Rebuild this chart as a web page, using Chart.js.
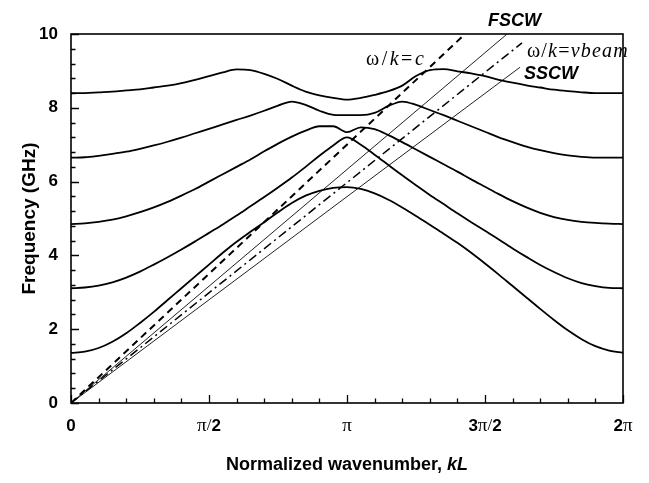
<!DOCTYPE html>
<html>
<head>
<meta charset="utf-8">
<script src="https://cdn.jsdelivr.net/npm/chart.js@4.4.1/dist/chart.umd.min.js"></script>
<style>
  html, body { margin: 0; padding: 0; background: #fff; }
  #wrap { width: 649px; height: 483px; }
</style>
</head>
<body>
<div id="wrap"><canvas id="chart" width="649" height="483"></canvas></div>
<script>
// Normalized wavenumber kL, in units of pi
const kL = [0, 0.05, 0.1, 0.15, 0.2, 0.25, 0.3, 0.35, 0.4, 0.45,
            0.5, 0.55, 0.6, 0.65, 0.7, 0.75, 0.8, 0.85, 0.9, 0.95,
            1.0, 1.05, 1.1, 1.15, 1.2, 1.25, 1.3, 1.35, 1.4, 1.45,
            1.5, 1.55, 1.6, 1.65, 1.7, 1.75, 1.8, 1.85, 1.9, 1.95, 2.0];

// Dispersion bands, frequency in GHz
const band1 = [1.36, 1.39, 1.49, 1.66, 1.89, 2.17, 2.47, 2.79, 3.11, 3.43,
               3.75, 4.07, 4.37, 4.64, 4.90, 5.17, 5.42, 5.62, 5.75, 5.83,
               5.85, 5.80, 5.68, 5.51, 5.30, 5.07, 4.83, 4.59, 4.34, 4.07,
               3.78, 3.48, 3.17, 2.86, 2.55, 2.25, 1.97, 1.73, 1.54, 1.42, 1.36];
const band2 = [3.11, 3.13, 3.18, 3.27, 3.40, 3.56, 3.75, 3.95, 4.16, 4.38,
               4.61, 4.84, 5.08, 5.33, 5.58, 5.84, 6.11, 6.40, 6.70, 6.98,
               7.20, 7.00, 6.73, 6.45, 6.17, 5.90, 5.64, 5.39, 5.14, 4.90,
               4.67, 4.43, 4.19, 3.96, 3.74, 3.55, 3.38, 3.25, 3.17, 3.12, 3.11];
const band3 = [4.85, 4.87, 4.91, 4.97, 5.06, 5.17, 5.30, 5.45, 5.62, 5.80,
               6.00, 6.20, 6.40, 6.60, 6.82, 7.03, 7.22, 7.38, 7.50, 7.50,
               7.34, 7.47, 7.42, 7.26, 7.07, 6.87, 6.67, 6.47, 6.27, 6.06,
               5.86, 5.66, 5.47, 5.30, 5.15, 5.04, 4.96, 4.91, 4.88, 4.86, 4.85];
const band4 = [6.65, 6.66, 6.70, 6.75, 6.81, 6.89, 6.98, 7.08, 7.19, 7.31,
               7.43, 7.55, 7.67, 7.79, 7.92, 8.06, 8.17, 8.08, 7.92, 7.81,
               7.80, 7.80, 7.86, 8.05, 8.17, 8.08, 7.94, 7.80, 7.65, 7.50,
               7.35, 7.20, 7.07, 6.95, 6.85, 6.77, 6.71, 6.67, 6.65, 6.65, 6.65];
const band5 = [8.40, 8.40, 8.42, 8.44, 8.47, 8.50, 8.55, 8.60, 8.67, 8.76,
               8.86, 8.96, 9.04, 9.02, 8.92, 8.78, 8.60, 8.44, 8.34, 8.27,
               8.22, 8.27, 8.35, 8.45, 8.60, 8.86, 9.02, 9.05, 8.99, 8.93,
               8.86, 8.76, 8.68, 8.61, 8.55, 8.49, 8.45, 8.42, 8.40, 8.40, 8.40];

// Straight lines from the origin: [kL/pi, GHz] end points
const lightLineK = [0, 1.428], lightLineF = [0, 10];
const fscwK = [0, 1.58],  fscwF = [0, 10];
const vbeamK = [0, 1.634], vbeamF = [0, 9.76];
const sscwK = [0, 1.627], sscwF = [0, 9.1];

// Axis ticks
const xTickValues = [0, 0.5, 1, 1.5, 2];
const xTickLabels = ['0', 'π/2', 'π', '3π/2', '2π'];
const yTickValues = [0, 2, 4, 6, 8, 10];

const SANS = '"Liberation Sans", Arial, sans-serif';
const SERIF = '"Liberation Serif", "Times New Roman", serif';

const pts = (xs, ys) => xs.map((v, i) => ({ x: v, y: ys[i] }));

const bandStyle = {
  borderColor: '#000', borderWidth: 1.8, pointRadius: 0,
  cubicInterpolationMode: 'monotone', fill: false
};

const datasets = [
  { label: 'band 1', data: pts(kL, band1), ...bandStyle },
  { label: 'band 2', data: pts(kL, band2), ...bandStyle },
  { label: 'band 3', data: pts(kL, band3), ...bandStyle },
  { label: 'band 4', data: pts(kL, band4), ...bandStyle },
  { label: 'band 5', data: pts(kL, band5), ...bandStyle },
  { label: 'ω/k=c', data: pts(lightLineK, lightLineF), borderColor: '#000',
    borderWidth: 2, borderDash: [7, 5], pointRadius: 0, tension: 0 },
  { label: 'FSCW', data: pts(fscwK, fscwF), borderColor: '#222',
    borderWidth: 1, pointRadius: 0, tension: 0 },
  { label: 'ω/k=vbeam', data: pts(vbeamK, vbeamF), borderColor: '#000',
    borderWidth: 1.5, borderDash: [9, 4, 2, 4], pointRadius: 0, tension: 0 },
  { label: 'SSCW', data: pts(sscwK, sscwF), borderColor: '#222',
    borderWidth: 1, pointRadius: 0, tension: 0 }
];

// Draw a run of text pieces [text, font] starting at x, with optional extra gap between pieces
function drawPieces(ctx, pieces, x, y, align, gap = 0) {
  let total = 0;
  const widths = pieces.map(([t, f]) => { ctx.font = f; const w = ctx.measureText(t).width; total += w; return w; });
  total += gap * (pieces.length - 1);
  let cx = align === 'center' ? x - total / 2 : x;
  ctx.textAlign = 'left';
  pieces.forEach(([t, f], i) => { ctx.font = f; ctx.fillText(t, cx, y); cx += widths[i] + gap; });
}

// Split a tick label into bold digits and serif symbols
function tickPieces(label) {
  return [...label].map(ch => /[0-9]/.test(ch)
    ? [ch, 'bold 17px ' + SANS]
    : [ch, (ch === 'π' ? '19px ' : '17px ') + SERIF]);
}

// Split a formula into upright symbols and italic letters, one piece per glyph
function formulaPieces(text, size) {
  return [...text].map(ch => /[a-z]/.test(ch)
    ? [ch, 'italic ' + size + 'px ' + SERIF]
    : [ch, size + 'px ' + SERIF]);
}

const decorations = {
  id: 'decorations',
  afterDatasetsDraw(chart) {
    const { ctx, chartArea: a, scales: { x, y } } = chart;
    ctx.save();
    ctx.strokeStyle = '#000';
    ctx.fillStyle = '#000';

    // frame
    ctx.lineWidth = 1.6;
    ctx.strokeRect(a.left, a.top, a.right - a.left, a.bottom - a.top);

    // inward tick marks
    ctx.lineWidth = 1.3;
    ctx.beginPath();
    for (let i = 0; i <= 20; i++) {
      const px = Math.round(x.getPixelForValue(i * 0.1)) + 0.5;
      const len = i % 5 === 0 ? 8 : 4.5;
      ctx.moveTo(px, a.bottom); ctx.lineTo(px, a.bottom - len);
    }
    for (let i = 0; i <= 25; i++) {
      const py = Math.round(y.getPixelForValue(i * 0.4)) + 0.5;
      const len = i % 5 === 0 ? 8 : 4.5;
      ctx.moveTo(a.left, py); ctx.lineTo(a.left + len, py);
    }
    ctx.stroke();

    // x tick labels
    ctx.textBaseline = 'middle';
    xTickValues.forEach((v, i) => {
      drawPieces(ctx, tickPieces(xTickLabels[i]), x.getPixelForValue(v), 426, 'center');
    });

    // axis titles
    ctx.textBaseline = 'alphabetic';
    drawPieces(ctx, [['Normalized wavenumber, ', 'bold 18px ' + SANS],
                     ['kL', 'italic bold 18px ' + SANS]], (a.left + a.right) / 2, 470, 'center');
    ctx.save();
    ctx.translate(35, (a.top + a.bottom) / 2);
    ctx.rotate(-Math.PI / 2);
    drawPieces(ctx, [['Frequency (GHz)', 'bold 19px ' + SANS]], 0, 0, 'center');
    ctx.restore();

    // line annotations
    drawPieces(ctx, [['FSCW', 'italic bold 18px ' + SANS]], 488, 26, 'left');
    drawPieces(ctx, [['SSCW', 'italic bold 18px ' + SANS]], 524, 79, 'left');
    drawPieces(ctx, formulaPieces('ω/k=c', 20), 366, 65, 'left', 2.5);
    drawPieces(ctx, formulaPieces('ω/k=vbeam', 20), 527, 57, 'left', 1.2);
    ctx.restore();
  }
};

new Chart(document.getElementById('chart'), {
  type: 'line',
  data: { datasets },
  options: {
    responsive: false,
    animation: false,
    devicePixelRatio: 1,
    layout: { padding: { top: 34, right: 26, left: 0, bottom: 0 } },
    plugins: { legend: { display: false }, tooltip: { enabled: false } },
    scales: {
      x: {
        type: 'linear', min: 0, max: 2,
        grid: { display: false, drawTicks: false },
        border: { display: false },
        ticks: { display: false },
        afterFit(scale) { scale.height = 80; }
      },
      y: {
        type: 'linear', min: 0, max: 10,
        grid: { display: false, drawTicks: false },
        border: { display: false },
        afterBuildTicks(scale) { scale.ticks = yTickValues.map(v => ({ value: v })); },
        ticks: {
          color: '#000', padding: 13,
          font: { family: SANS, weight: 'bold', size: 17 }
        },
        afterFit(scale) { scale.width = 71; }
      }
    }
  },
  plugins: [decorations]
});
</script>
</body>
</html>
